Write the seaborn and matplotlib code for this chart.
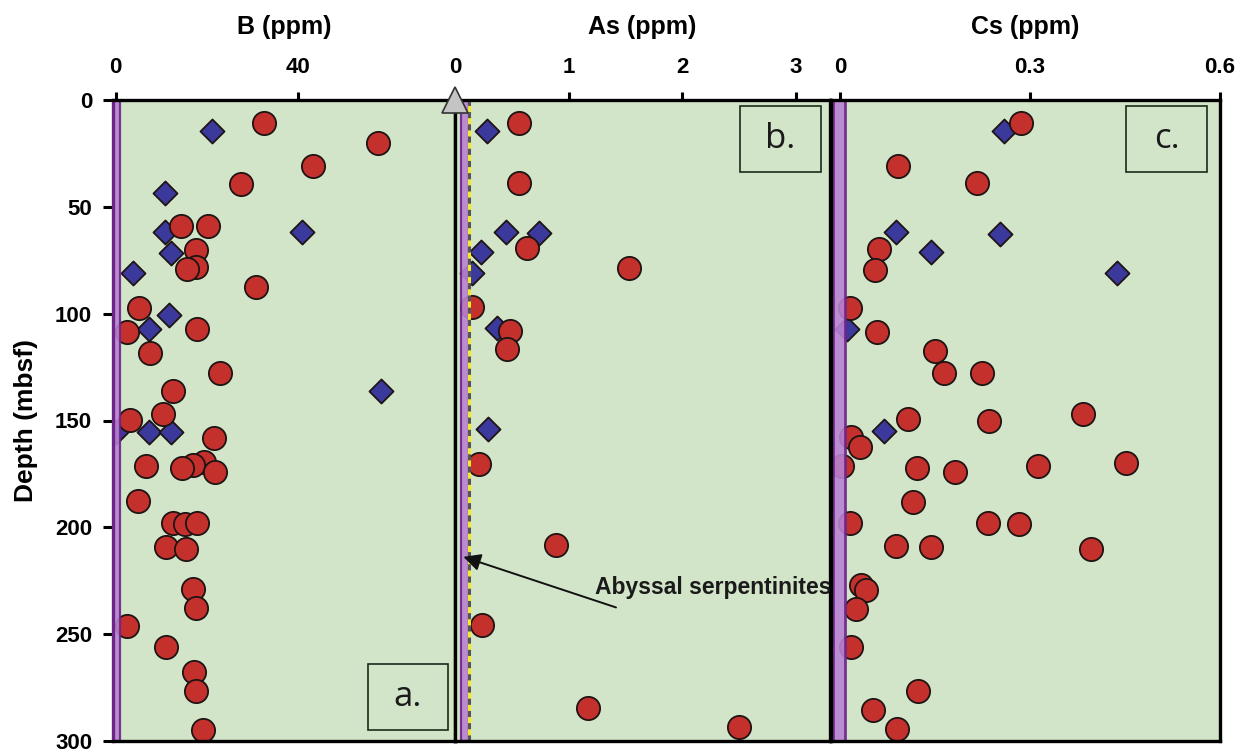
import numpy as np
import pandas as pd
import matplotlib
matplotlib.use("Agg")
import matplotlib.pyplot as plt
import seaborn as sns

sns.set_theme(style="white")
plt.rcParams['font.family'] = ['Liberation Sans', 'DejaVu Sans']
plt.rcParams['text.color'] = 'black'
plt.rcParams['xtick.color'] = 'black'
plt.rcParams['ytick.color'] = 'black'
plt.rcParams['axes.labelcolor'] = 'black'

# ---------------- data ----------------
# Panel a: B (ppm)
b_circ_val = [32.5, 57.5, 43.2, 27.4, 14.3, 20.1, 17.6, 17.5, 15.7, 30.7, 5.1, 2.4,
              17.7, 7.5, 22.9, 12.5, 10.4, 3.1, 21.5, 6.6, 19.3, 16.9, 14.6, 21.8,
              4.8, 12.5, 15.1, 17.7, 10.9, 15.4, 16.9, 17.5, 2.4, 10.9, 17.1, 17.5, 19.1]
b_circ_depth = [10.6, 20.3, 30.7, 39.2, 59.1, 59.1, 70.2, 78.0, 79.0, 87.3, 97.2, 108.4,
                107.2, 118.5, 127.9, 136.2, 147.1, 149.7, 158.0, 171.3, 169.2, 170.8, 172.3, 173.9,
                187.5, 197.8, 198.4, 197.8, 209.0, 210.3, 229.0, 237.9, 246.4, 255.8, 267.8, 276.4, 294.8]
b_dia_val = [21.1, 10.8, 10.8, 40.9, 12.0, 3.7, 11.7, 7.2, 58.0, 0.1, 7.2, 12.0]
b_dia_depth = [14.5, 43.4, 61.9, 61.9, 71.8, 81.1, 100.6, 107.3, 136.0, 155.2, 155.2, 155.6]

# Panel b: As (ppm)
as_circ_val = [0.56, 0.56, 0.63, 1.53, 0.15, 0.48, 0.46, 0.21, 0.89, 0.24, 1.17, 2.50]
as_circ_depth = [10.6, 39.0, 69.4, 78.8, 96.7, 108.1, 116.7, 170.5, 208.2, 245.8, 284.7, 293.5]
as_dia_val = [0.28, 0.45, 0.74, 0.23, 0.15, 0.37, 0.29]
as_dia_depth = [14.5, 61.6, 62.1, 71.0, 80.8, 106.5, 154.1]

# Panel c: Cs (ppm)
cs_circ_val = [0.286, 0.092, 0.216, 0.061, 0.055, 0.016, 0.058, 0.150, 0.165, 0.225,
               0.384, 0.107, 0.236, 0.017, 0.032, 0.004, 0.122, 0.182, 0.313, 0.451,
               0.116, 0.016, 0.234, 0.282, 0.089, 0.144, 0.397, 0.034, 0.041, 0.025,
               0.017, 0.123, 0.052, 0.090]
cs_circ_depth = [10.6, 30.7, 39.0, 69.9, 79.6, 97.2, 108.8, 117.3, 127.9, 127.9,
                 147.1, 149.4, 150.0, 157.5, 162.6, 171.3, 172.3, 174.3, 171.5, 170.0,
                 188.0, 198.1, 197.8, 198.4, 208.7, 209.0, 210.3, 227.0, 229.3, 238.2,
                 256.2, 276.4, 285.4, 294.5]
cs_dia_val = [0.259, 0.088, 0.252, 0.144, 0.438, 0.011, 0.070]
cs_dia_depth = [14.5, 61.9, 62.9, 71.0, 81.1, 107.3, 154.9]

titles = ["B (ppm)", "As (ppm)", "Cs (ppm)"]
panel_labels = ["a.", "b.", "c."]
xticks = [[0, 40], [0, 1, 2, 3], [0, 0.3, 0.6]]
xticklabels = [["0", "40"], ["0", "1", "2", "3"], ["0", "0.3", "0.6"]]
yticks = [0, 50, 100, 150, 200, 250, 300]

# ---------------- styling ----------------
BG = "#d3e5c9"
RED = "#c4302b"
BLUE = "#3b3a9c"
EDGE = "#1e1414"
BAND = "#b983d2"
BAND_EDGE = "#6c2488"

W, H = 1242, 753
fig = plt.figure(figsize=(W / 100, H / 100), dpi=100)
top_px, bot_px = 100, 741
ax_b = 1 - bot_px / H
ax_h = (bot_px - top_px) / H
panels_px = [(113, 455), (455, 830), (831, 1220)]
xlims = [(-0.6, 74.3), (0, 3.3), (-0.014, 0.6)]
bands = [(-0.6, 1.0), (0.05, 0.12), (-0.011, 0.008)]

datasets = [
    (b_circ_val, b_circ_depth, b_dia_val, b_dia_depth),
    (as_circ_val, as_circ_depth, as_dia_val, as_dia_depth),
    (cs_circ_val, cs_circ_depth, cs_dia_val, cs_dia_depth),
]

axes = []
for i, ((l, r), xl, band, data) in enumerate(zip(panels_px, xlims, bands, datasets)):
    ax = fig.add_axes([l / W, ax_b, (r - l) / W, ax_h])
    axes.append(ax)
    ax.set_facecolor(BG)
    cv, cd, dv, dd = data
    dfc = pd.DataFrame({"val": cv, "depth": cd})
    dfd = pd.DataFrame({"val": dv, "depth": dd})
    sns.scatterplot(data=dfd, x="val", y="depth", ax=ax, marker="D", s=150,
                    color=BLUE, edgecolor=EDGE, linewidth=1.3, zorder=3, legend=False)
    sns.scatterplot(data=dfc, x="val", y="depth", ax=ax, marker="o", s=280,
                    color=RED, edgecolor=EDGE, linewidth=1.3, zorder=3, legend=False)
    ax.axvspan(band[0], band[1], facecolor=BAND, edgecolor=BAND_EDGE,
               linewidth=2.0 if i == 2 else 1.6, alpha=0.9, zorder=4)
    ax.set_xlim(*xl)
    ax.set_ylim(300, 0)
    ax.xaxis.tick_top()
    ax.set_xticks(xticks[i])
    ax.set_xticklabels(xticklabels[i], fontsize=16, fontweight="bold")
    ax.tick_params(axis="x", direction="out", length=6, width=2.2, pad=10, colors="black")
    ax.set_xlabel("")
    ax.set_ylabel("")
    for sp in ax.spines.values():
        sp.set_color("black")
        sp.set_linewidth(2.4)
        sp.set_zorder(5)
    ax.text(0.5, 1 + (100 - 27) / 641, titles[i], transform=ax.transAxes,
            ha="center", va="center", fontsize=18, fontweight="bold")
    if i == 0:
        ax.set_yticks(yticks)
        ax.set_yticklabels([str(t) for t in yticks], fontsize=16, fontweight="bold")
        ax.tick_params(axis="y", direction="out", length=7, width=2.2, pad=8, left=True)
        ax.set_ylabel("Depth (mbsf)", fontsize=19, fontweight="bold", labelpad=12)
        ax.spines["left"].set_color(BAND_EDGE)
    else:
        ax.set_yticks([])

# panel letter boxes (pixel positions -> axes fraction)
def px_box(ax_idx, x0, x1, y0, y1):
    l, r = panels_px[ax_idx]
    return ((x0 - l) / (r - l), 1 - (y1 - top_px) / (bot_px - top_px),
            (x1 - x0) / (r - l), (y1 - y0) / (bot_px - top_px))

boxes = [px_box(0, 368, 448, 664, 730), px_box(1, 740, 821, 106, 172), px_box(2, 1126, 1207, 106, 172)]
for ax, (bx, by, bw, bh), lab in zip(axes, boxes, panel_labels):
    rect = plt.Rectangle((bx, by), bw, bh, transform=ax.transAxes, fill=False,
                         edgecolor="#1a2a1a", linewidth=1.2, zorder=6)
    ax.add_patch(rect)
    ax.text(bx + bw / 2, by + bh / 2, lab, transform=ax.transAxes, ha="center", va="center",
            fontsize=25, family="Open Sans", color="#1a1a1a", zorder=6)

# dashed yellow / grey line in panel b
axb = axes[1]
axb.axvline(0.12, color="#f2ea2a", linewidth=2.2, zorder=5)
axb.axvline(0.12, color="#555555", linewidth=2.2, linestyle=(0, (2, 2)), zorder=5)

# grey triangle at top-left of panel b
axb.plot([0], [0], marker="^", markersize=19, color="#c4c4c4", markeredgecolor="#333333",
         markeredgewidth=1.2, clip_on=False, zorder=10)

# annotation
axb.annotate("", xy=(0.05, 213.4), xytext=(1.44, 237.9),
             arrowprops=dict(arrowstyle="-|>", color="#111111", lw=1.4, mutation_scale=26),
             zorder=7)
axb.text(1.23, 228, "Abyssal serpentinites", ha="left", va="center", fontsize=16.5,
         fontweight="bold", color="#1a1a1a", zorder=7, clip_on=False)

fig.savefig("out.png", dpi=100)
